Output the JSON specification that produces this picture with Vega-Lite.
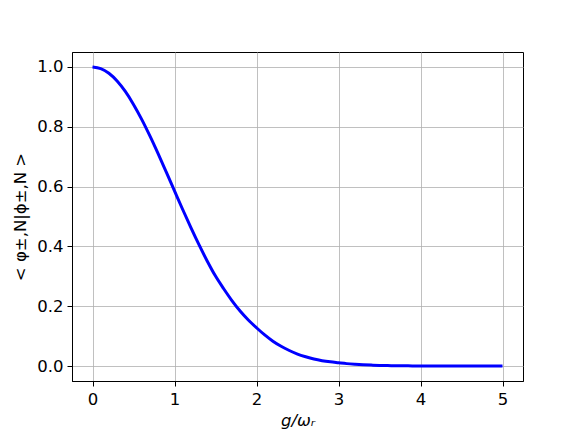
{
  "$schema": "https://vega.github.io/schema/vega-lite/v6.json",
  "width": 451,
  "height": 329,
  "autosize": {"type": "none"},
  "padding": {"left": 72, "top": 52, "right": 58, "bottom": 55},
  "background": "white",
  "data": {
    "values": [
      {"g": 0.0, "overlap": 1.0},
      {"g": 0.1, "overlap": 0.9947},
      {"g": 0.2, "overlap": 0.9788},
      {"g": 0.3, "overlap": 0.953},
      {"g": 0.4, "overlap": 0.918},
      {"g": 0.5, "overlap": 0.8748},
      {"g": 0.6, "overlap": 0.8248},
      {"g": 0.7, "overlap": 0.7694},
      {"g": 0.8, "overlap": 0.7101},
      {"g": 0.9, "overlap": 0.6483},
      {"g": 1.0, "overlap": 0.5857},
      {"g": 1.1, "overlap": 0.5234},
      {"g": 1.2, "overlap": 0.4628},
      {"g": 1.3, "overlap": 0.4049},
      {"g": 1.4, "overlap": 0.3506},
      {"g": 1.5, "overlap": 0.3008},
      {"g": 1.6, "overlap": 0.2585},
      {"g": 1.7, "overlap": 0.219},
      {"g": 1.8, "overlap": 0.184},
      {"g": 1.9, "overlap": 0.154},
      {"g": 2.0, "overlap": 0.128},
      {"g": 2.1, "overlap": 0.104},
      {"g": 2.2, "overlap": 0.083},
      {"g": 2.3, "overlap": 0.066},
      {"g": 2.4, "overlap": 0.052},
      {"g": 2.5, "overlap": 0.04},
      {"g": 2.6, "overlap": 0.031},
      {"g": 2.7, "overlap": 0.0235},
      {"g": 2.8, "overlap": 0.018},
      {"g": 2.9, "overlap": 0.014},
      {"g": 3.0, "overlap": 0.011},
      {"g": 3.1, "overlap": 0.0081},
      {"g": 3.2, "overlap": 0.006},
      {"g": 3.3, "overlap": 0.0043},
      {"g": 3.4, "overlap": 0.0031},
      {"g": 3.5, "overlap": 0.0022},
      {"g": 3.6, "overlap": 0.0015},
      {"g": 3.7, "overlap": 0.0011},
      {"g": 3.8, "overlap": 0.0007},
      {"g": 3.9, "overlap": 0.0005},
      {"g": 4.0, "overlap": 0.0003},
      {"g": 4.1, "overlap": 0.0002},
      {"g": 4.2, "overlap": 0.00015},
      {"g": 4.3, "overlap": 0.0001},
      {"g": 4.4, "overlap": 0.00006},
      {"g": 4.5, "overlap": 0.00004},
      {"g": 4.6, "overlap": 0.00003},
      {"g": 4.7, "overlap": 0.00002},
      {"g": 4.8, "overlap": 0.00001},
      {"g": 4.9, "overlap": 0.00001},
      {"g": 5.0, "overlap": 0.0}
    ]
  },
  "mark": {"type": "line", "color": "#0000ff", "strokeWidth": 3, "interpolate": "monotone", "clip": true},
  "encoding": {
    "x": {
      "field": "g",
      "type": "quantitative",
      "scale": {"domain": [-0.25, 5.25], "nice": false, "zero": false},
      "axis": {
        "title": "g/ωᵣ",
        "values": [0, 1, 2, 3, 4, 5],
        "format": "d",
        "titleFontStyle": "italic",
        "labelPadding": 5,
        "titlePadding": 5
      }
    },
    "y": {
      "field": "overlap",
      "type": "quantitative",
      "scale": {"domain": [-0.05, 1.05], "nice": false, "zero": false},
      "axis": {
        "title": "< φ±,N|ϕ±,N >",
        "values": [0, 0.2, 0.4, 0.6, 0.8, 1.0],
        "format": ".1f",
        "labelPadding": 4,
        "titlePadding": 8
      }
    }
  },
  "config": {
    "font": "DejaVu Sans",
    "view": {"stroke": "black", "strokeWidth": 1},
    "axis": {
      "grid": true,
      "gridColor": "#b0b0b0",
      "gridWidth": 0.8,
      "domain": true,
      "domainColor": "black",
      "domainWidth": 1,
      "tickColor": "black",
      "tickSize": 5,
      "tickWidth": 1,
      "labelFont": "DejaVu Sans",
      "labelFontSize": 16.5,
      "labelColor": "black",
      "titleFont": "DejaVu Sans",
      "titleFontSize": 16.5,
      "titleFontWeight": "normal",
      "titleColor": "black"
    }
  }
}
